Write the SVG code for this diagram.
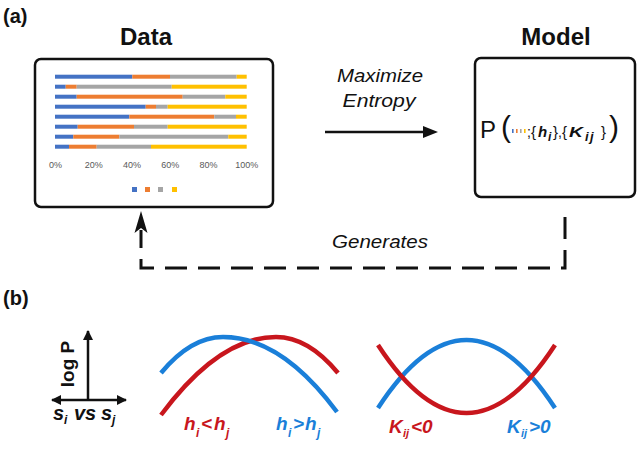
<svg xmlns="http://www.w3.org/2000/svg" width="640" height="456" viewBox="0 0 640 456">
<defs>
<style>
text{font-family:"Liberation Sans",Arial,sans-serif;fill:#111}
.lbl{font-weight:bold;font-size:20px}
.title{font-weight:bold;font-size:24px;text-anchor:middle}
.it{font-style:italic;font-size:18px;text-anchor:middle}
.box{fill:#fff;stroke:#111;stroke-width:2.5}
.pct{font-size:9px;fill:#595959;text-anchor:middle}
.b{fill:#4472C4}.o{fill:#ED7D31}.g{fill:#A5A5A5}.y{fill:#FFC000}
.bi{font-weight:bold;font-style:italic}
.curveB{fill:none;stroke:#1a7fd9;stroke-width:4.5}
.curveR{fill:none;stroke:#c8161d;stroke-width:4.5}
.tB{fill:#1a7fd9}.tR{fill:#c8161d}
.ax{stroke:#111;stroke-width:2.5;fill:none}
</style>
<marker id="tri" viewBox="0 0 10 10" refX="9" refY="5" markerWidth="4" markerHeight="4" orient="auto-start-reverse" markerUnits="strokeWidth">
<path d="M0,0 L10,5 L0,10 z" fill="#111"/>
</marker>
</defs>

<text class="lbl" x="3" y="23">(a)</text>
<text class="lbl" x="3" y="305">(b)</text>

<g id="data">
<text class="title" x="146" y="45">Data</text>
<rect class="box" x="35" y="59" width="238" height="148" rx="6"/>
<g id="bars">
<rect class="b" x="55" y="74.7" width="77.3" height="4"/><rect class="o" x="132.3" y="74.7" width="37.7" height="4"/><rect class="g" x="170" y="74.7" width="66.7" height="4"/><rect class="y" x="236.7" y="74.7" width="10" height="4"/>
<rect class="b" x="55" y="84.7" width="10.7" height="4"/><rect class="o" x="65.7" y="84.7" width="11" height="4"/><rect class="g" x="76.7" y="84.7" width="95" height="4"/><rect class="y" x="171.7" y="84.7" width="75" height="4"/>
<rect class="b" x="55" y="94.7" width="21.7" height="4"/><rect class="o" x="76.7" y="94.7" width="106" height="4"/><rect class="g" x="182.7" y="94.7" width="42.6" height="4"/><rect class="y" x="225.3" y="94.7" width="21.4" height="4"/>
<rect class="b" x="55" y="104.7" width="90.7" height="4"/><rect class="o" x="145.7" y="104.7" width="10.3" height="4"/><rect class="g" x="156" y="104.7" width="11.7" height="4"/><rect class="y" x="167.7" y="104.7" width="79" height="4"/>
<rect class="b" x="55" y="114.7" width="74.3" height="4"/><rect class="o" x="129.3" y="114.7" width="85" height="4"/><rect class="g" x="214.3" y="114.7" width="21.7" height="4"/><rect class="y" x="236" y="114.7" width="10.7" height="4"/>
<rect class="b" x="55" y="124.7" width="22.7" height="4"/><rect class="o" x="77.7" y="124.7" width="56.3" height="4"/><rect class="g" x="134" y="124.7" width="33.7" height="4"/><rect class="y" x="167.7" y="124.7" width="79" height="4"/>
<rect class="b" x="55" y="134.7" width="18.3" height="4"/><rect class="o" x="73.3" y="134.7" width="46" height="4"/><rect class="g" x="119.3" y="134.7" width="109" height="4"/><rect class="y" x="228.3" y="134.7" width="18.4" height="4"/>
<rect class="b" x="55" y="144.7" width="14" height="4"/><rect class="o" x="69" y="144.7" width="27.7" height="4"/><rect class="g" x="96.7" y="144.7" width="54.3" height="4"/><rect class="y" x="151" y="144.7" width="95.7" height="4"/>
</g>
<g id="axis-labels">
<text class="pct" x="55.5" y="168">0%</text>
<text class="pct" x="93.7" y="168">20%</text>
<text class="pct" x="132" y="168">40%</text>
<text class="pct" x="170.2" y="168">60%</text>
<text class="pct" x="208.5" y="168">80%</text>
<text class="pct" x="246.7" y="168">100%</text>
</g>
<g id="legend">
<rect class="b" x="132" y="187" width="5" height="5"/>
<rect class="o" x="145" y="187" width="5" height="5"/>
<rect class="g" x="158" y="187" width="5" height="5"/>
<rect class="y" x="172" y="187" width="5" height="5"/>
</g>
</g>

<g id="model">
<text class="title" x="556" y="45">Model</text>
<rect class="box" x="475" y="58" width="160" height="139" rx="6"/>
<text x="480" y="138" font-size="24">P</text>
<text x="501" y="137" font-size="30">(</text>
<rect class="b" x="512" y="129" width="1.6" height="4"/>
<rect class="o" x="516" y="129" width="1.6" height="4"/>
<rect class="g" x="520" y="129" width="1.6" height="4"/>
<rect class="y" x="524" y="129" width="1.6" height="4"/>
<text x="527" y="137" font-size="14">;</text>
<text x="531" y="137" font-size="15">{</text>
<text class="bi" x="538" y="137" font-size="15">h</text>
<text class="bi" x="548" y="141" font-size="12">i</text>
<text x="553" y="137" font-size="15">}</text>
<text x="558" y="137" font-size="14">,</text>
<text x="562" y="137" font-size="15">{</text>
<text class="bi" x="569" y="137" font-size="15" textLength="14" lengthAdjust="spacingAndGlyphs">K</text>
<text class="bi" x="585" y="141" font-size="13" letter-spacing="1.5">ij</text>
<text x="601" y="137" font-size="15">}</text>
<text x="609" y="137" font-size="30">)</text>
</g>

<g id="connectors">
<line x1="325" y1="132" x2="424" y2="132" stroke="#111" stroke-width="2.5"/>
<polygon points="438,132 423,126 423,138" fill="#111"/>
<text class="it" x="380" y="82" textLength="86" lengthAdjust="spacingAndGlyphs">Maximize</text>
<text class="it" x="379" y="107" textLength="73" lengthAdjust="spacingAndGlyphs">Entropy</text>
<path d="M565,217 V268 H141 V230" fill="none" stroke="#111" stroke-width="3" stroke-dasharray="22 11"/>
<polygon points="141,211 147.5,233 141,228 134.5,233" fill="#111"/>
<text class="it" x="380" y="248" textLength="96" lengthAdjust="spacingAndGlyphs">Generates</text>
</g>

<g id="axes">
<line class="ax" x1="88" y1="400" x2="88" y2="331" marker-end="url(#tri)"/>
<line class="ax" x1="52" y1="400" x2="126" y2="400" marker-start="url(#tri)" marker-end="url(#tri)"/>
<text class="lbl" transform="translate(74,364) rotate(-90)" text-anchor="middle" style="font-size:19px">log P</text>
<text class="bi" x="53" y="420" font-size="20">s</text>
<text class="bi" x="64" y="424" font-size="12">i</text>
<text class="bi" x="74" y="420" font-size="20">vs</text>
<text class="bi" x="101" y="420" font-size="20">s</text>
<text class="bi" x="112" y="424" font-size="12">j</text>
</g>

<g id="h-curves">
<path class="curveR" d="M161,415 C199,364 237,337 276,337 C299,337 319,350 338,373"/>
<path class="curveB" d="M161,373 C180,350 200,337 223,337 C262,337 300,362 337,412"/>
<text class="bi tR" x="184" y="430" font-size="19">h</text>
<text class="bi tR" x="196" y="437" font-size="12">i</text>
<text class="bi tR" x="201" y="430" font-size="19">&lt;</text>
<text class="bi tR" x="214" y="430" font-size="19">h</text>
<text class="bi tR" x="226" y="437" font-size="12">j</text>
<text class="bi tB" x="276" y="430" font-size="19">h</text>
<text class="bi tB" x="288" y="437" font-size="12">i</text>
<text class="bi tB" x="293" y="430" font-size="19">&gt;</text>
<text class="bi tB" x="305" y="430" font-size="19">h</text>
<text class="bi tB" x="317" y="437" font-size="12">j</text>
</g>

<g id="k-curves">
<path class="curveB" d="M378,408 Q466.5,272 555,408"/>
<path class="curveR" d="M378,345 Q466.5,481 555,345"/>
<text class="bi tR" x="389" y="433" font-size="19">K</text>
<text class="bi tR" x="403" y="437" font-size="11">ij</text>
<text class="bi tR" x="411" y="433" font-size="19">&lt;0</text>
<text class="bi tB" x="507" y="433" font-size="19">K</text>
<text class="bi tB" x="521" y="437" font-size="11">ij</text>
<text class="bi tB" x="529" y="433" font-size="19">&gt;0</text>
</g>
</svg>
